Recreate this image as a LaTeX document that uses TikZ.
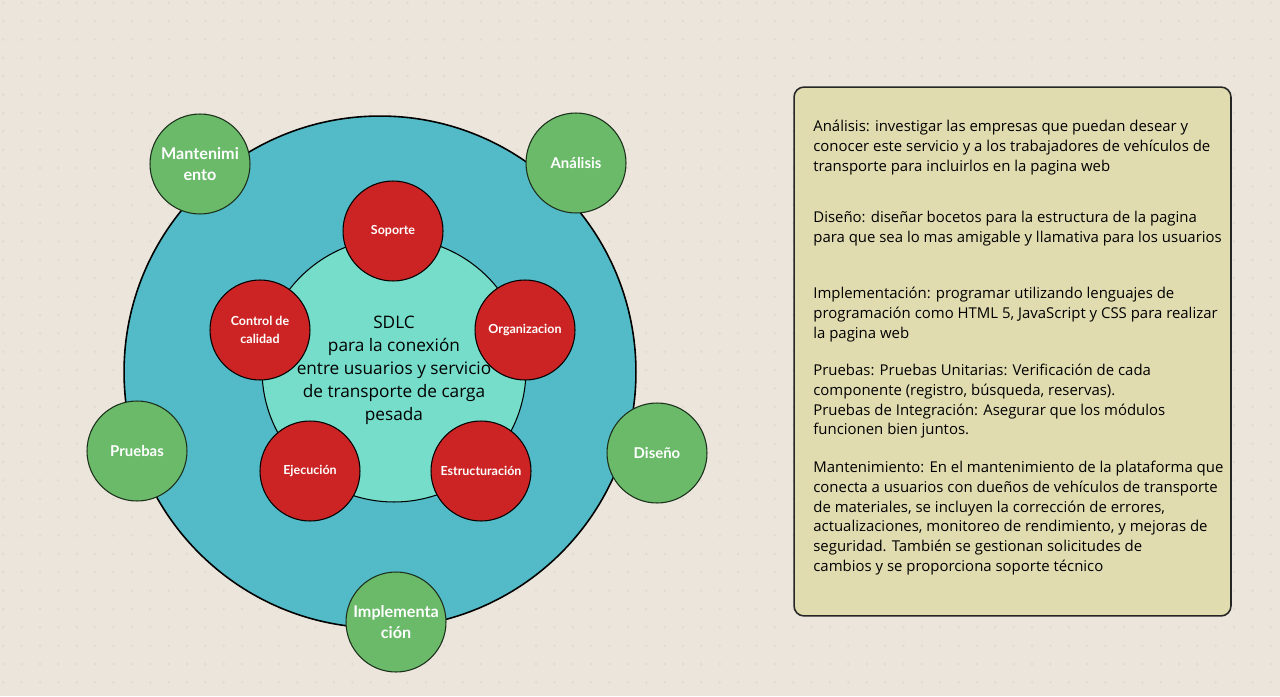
\documentclass[tikz,border=0pt]{standalone}
\usepackage{fontspec}
\setmainfont{Open Sans}
\newfontfamily\latofont{Lato}
\definecolor{fondo}{HTML}{EBE5DC}
\definecolor{punto}{HTML}{E2DBD2}
\definecolor{anillo}{HTML}{53BBC8}
\definecolor{nucleo}{HTML}{75DDC9}
\definecolor{rojo}{HTML}{CC2424}
\definecolor{verde}{HTML}{6ABA6A}
\definecolor{papel}{HTML}{E1DCB0}
\tikzset{
  fase/.style={circle, draw=black!75!verde, line width=0.6pt, fill=verde, minimum size=2cm,
    inner sep=0pt, text=white, align=center, font=\latofont\bfseries\fontsize{8.5}{12}\selectfont},
  fasegrande/.style={fase, font=\latofont\bfseries\fontsize{9.2}{12}\selectfont},
  tarea/.style={circle, draw=black, line width=0.6pt, fill=rojo, minimum size=2cm,
    inner sep=0pt, text=white, align=center, font=\latofont\bfseries\fontsize{7.1}{10.2}\selectfont},
  nota/.style={anchor=north west, inner sep=0pt, align=left, text=black,
    font=\fontsize{8.5}{11.2}\selectfont}
}
\begin{document}
\begin{tikzpicture}[x=0.02cm, y=-0.02cm]
\useasboundingbox (0,0) rectangle (1280,696);
\fill[fondo] (0,0) rectangle (1280,696);
\foreach \i in {0,...,69}
  \foreach \j in {0,...,37}
    \fill[punto] (3.3+18.37*\i, 2.7+18.37*\j) circle (0.8pt);

% ciclo
\node[circle, draw=black, line width=0.9pt, fill=anillo, minimum size=10.24cm] (anillo) at (380,372) {};
\node[circle, draw=black, line width=0.6pt, fill=nucleo, minimum size=5.28cm, align=center,
  font=\fontsize{9.8}{13.1}\selectfont] (sdlc) at (394,370)
  {SDLC\\para la conexión\\entre usuarios y servicio\\de transporte de carga\\pesada};

% actividades
\node[tarea] (soporte) at (393,231) {Soporte};
\node[tarea] (organizacion) at (525,330) {Organizacion};
\node[tarea] (estructuracion) at (481,471) {Estructuración};
\node[tarea] (ejecucion) at (310,471) {Ejecución};
\node[tarea] (control) at (260,330) {Control de\\calidad};

% fases
\node[fasegrande] (mantenimiento) at (200,164) {Mantenimi\\ento};
\node[fase] (analisis) at (576,163) {Análisis};
\node[fase] (diseno) at (657,453) {Diseño};
\node[fasegrande] (implementacion) at (396,622) {Implementa\\ción};
\node[fase] (pruebas) at (137,451) {Pruebas};

% descripciones
\node[draw=black!85, line width=0.9pt, fill=papel, rounded corners=0.2cm,
  minimum width=8.74cm, minimum height=10.58cm] (caja) at (1012.5,351.5) {};
\node[nota] (txtanalisis) at (813,120)
  {Análisis: investigar las empresas que puedan desear y\\conocer este servicio y a los trabajadores de vehículos de\\transporte para incluirlos en la pagina web};
\node[nota] (txtdiseno) at (813,211)
  {Diseño: diseñar bocetos para la estructura de la pagina\\para que sea lo mas amigable y llamativa para los usuarios};
\node[nota] (txtimplementacion) at (813,287)
  {Implementación: programar utilizando lenguajes de\\programación como HTML 5, JavaScript y CSS para realizar\\la pagina web};
\node[nota] (txtpruebas) at (813,364)
  {Pruebas: Pruebas Unitarias: Verificación de cada\\componente (registro, búsqueda, reservas).\\Pruebas de Integración: Asegurar que los módulos\\funcionen bien juntos.};
\node[nota] (txtmantenimiento) at (813,461)
  {Mantenimiento: En el mantenimiento de la plataforma que\\conecta a usuarios con dueños de vehículos de transporte\\de materiales, se incluyen la corrección de errores,\\actualizaciones, monitoreo de rendimiento, y mejoras de\\seguridad. También se gestionan solicitudes de\\cambios y se proporciona soporte técnico};
\end{tikzpicture}
\end{document}
